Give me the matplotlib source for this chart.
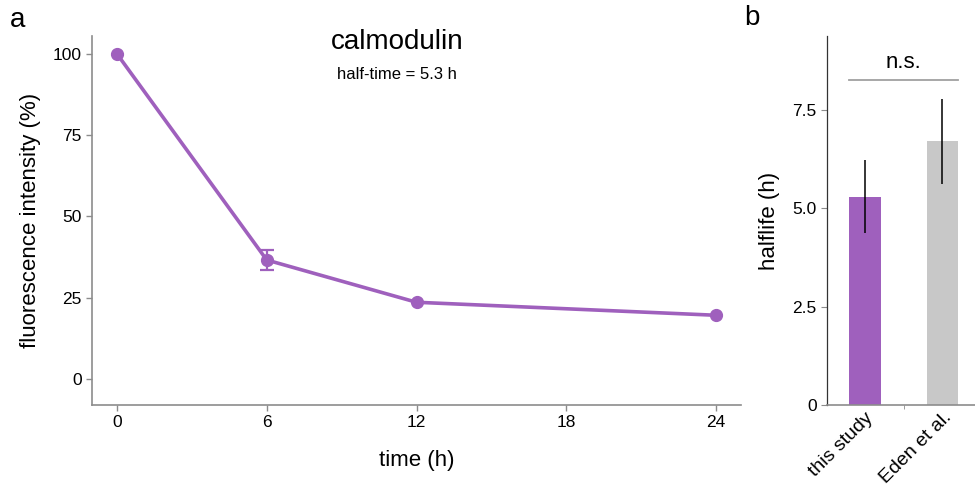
import matplotlib
matplotlib.use("Agg")
import matplotlib.pyplot as plt
from matplotlib.ticker import FixedLocator
from matplotlib.transforms import ScaledTranslation

plt.rcParams['font.family'] = ['Liberation Sans', 'DejaVu Sans']

# Panel a: calmodulin fluorescence decay
time_h = [0, 6, 12, 24]
intensity = [100, 36.6, 23.6, 19.6]
intensity_err = [0, 3.2, 0, 0]
x_ticks_a = [0, 6, 12, 18, 24]
y_ticks_a = [0, 25, 50, 75, 100]
halftime_text = "half-time = 5.3 h"

# Panel b: half-life comparison
studies = ["this study", "Eden et al."]
halflife = [5.3, 6.7]
halflife_err = [0.93, 1.08]
y_ticks_b = [0, 2.5, 5.0, 7.5]
y_ticklabels_b = ["0", "2.5", "5.0", "7.5"]

purple = "#9f60bd"
grey_bar = "#c8c8c8"
spine_grey = "#8c8c8c"

fig = plt.figure(figsize=(9.75, 4.9), dpi=100)

# ---- panel a ----
ax = fig.add_axes([92/975, 1-405/490, 649/975, 369/490])
ax.plot(time_h, intensity, color=purple, lw=2.6, marker='o', ms=8.5)
# error bars only where a spread was measured
err_pts = [(t, v, e) for t, v, e in zip(time_h, intensity, intensity_err) if e > 0]
ax.errorbar([p[0] for p in err_pts], [p[1] for p in err_pts],
            yerr=[p[2] for p in err_pts], fmt='none', ecolor=purple,
            capsize=5, elinewidth=1.6, capthick=1.6)
ax.set_xlim(-1, 25)
ax.set_ylim(-8, 105.5)
ax.set_xticks(x_ticks_a)
ax.set_yticks(y_ticks_a)
for s in ['top', 'right']:
    ax.spines[s].set_visible(False)
for s in ['left', 'bottom']:
    ax.spines[s].set_color(spine_grey)
    ax.spines[s].set_linewidth(1.2)
ax.tick_params(axis='both', colors=spine_grey, labelcolor='black',
               labelsize=12.5, length=4, width=1.0)
ax.set_xlabel("time (h)", fontsize=16, labelpad=14)
ax.set_ylabel("fluorescence intensity (%)", fontsize=16, labelpad=8)
ax.text(0.47, 0.985, "calmodulin", transform=ax.transAxes, ha='center',
        va='center', fontsize=20)
ax.text(0.47, 0.895, halftime_text, transform=ax.transAxes, ha='center',
        va='center', fontsize=12)
fig.text(18/975, 1-20/490, "a", fontsize=20, ha='center', va='center')

# ---- panel b ----
bx = fig.add_axes([827/975, 1-405/490, 148/975, 369/490])
xpos = list(range(len(studies)))
bx.bar(xpos, halflife, width=0.41, color=[purple, grey_bar])
bx.errorbar(xpos, halflife, yerr=halflife_err, fmt='none', ecolor='black',
            elinewidth=1.1, capsize=0)
bx.set_xlim(-0.49, 1.42)
bx.set_ylim(0, 9.38)
bx.set_yticks(y_ticks_b)
bx.set_yticklabels(y_ticklabels_b)
bx.set_xticks(xpos)
bx.set_xticklabels(studies, rotation=45, ha='right', rotation_mode='anchor',
                   fontsize=14)
shift = ScaledTranslation(11/100, 0, fig.dpi_scale_trans)
for lbl in bx.get_xticklabels():
    lbl.set_transform(lbl.get_transform() + shift)
bx.xaxis.set_minor_locator(FixedLocator([0.5]))
bx.tick_params(axis='x', which='major', length=0, pad=3)
bx.tick_params(axis='x', which='minor', length=3, color=spine_grey)
bx.tick_params(axis='y', length=4, color=spine_grey, labelsize=12.5)
for s in ['top', 'right']:
    bx.spines[s].set_visible(False)
bx.spines['bottom'].set_color(spine_grey)
bx.spines['bottom'].set_linewidth(1.2)
bx.spines['left'].set_color('#333333')
bx.spines['left'].set_linewidth(0.9)
bx.set_ylabel("halflife (h)", fontsize=16, labelpad=9)
# significance bar
bx.plot([-0.2, 1.2], [8.26, 8.26], color='#a0a0a0', lw=1.3, clip_on=False)
bx.text(0.5, 8.7, "n.s.", ha='center', va='center', fontsize=16)
fig.text(752/975, 1-18/490, "b", fontsize=20, ha='center', va='center')

fig.savefig("out.png", dpi=100)
